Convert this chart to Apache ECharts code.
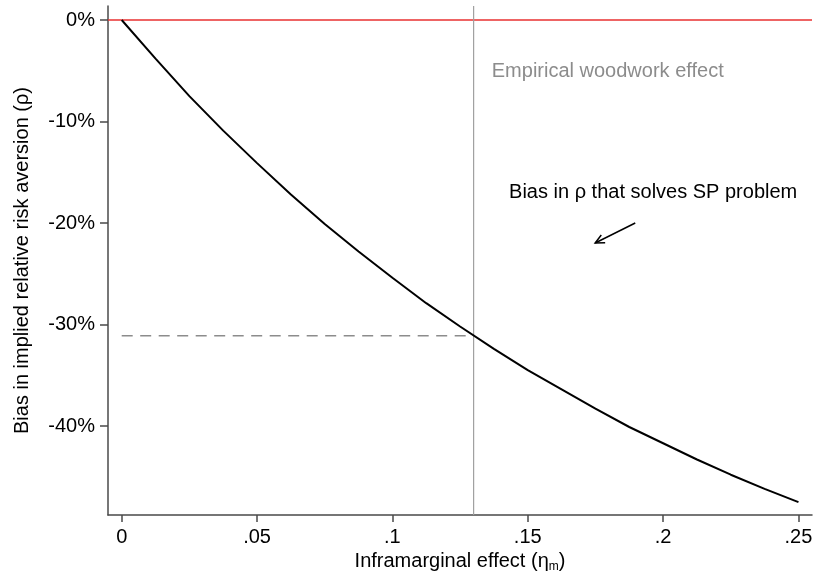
<!DOCTYPE html>
<html>
<head>
<meta charset="utf-8">
<script src="https://cdn.jsdelivr.net/npm/echarts@6/dist/echarts.min.js"></script>
<style>
  html, body { margin: 0; padding: 0; background: #fff; }
  #chart { width: 820px; height: 574px; }
</style>
</head>
<body>
<div id="chart"></div>
<script>
// Inframarginal effect (eta_m) on the horizontal axis
const etaM = [0, 0.0125, 0.025, 0.0375, 0.05, 0.0625, 0.075, 0.0875, 0.1, 0.1125,
              0.125, 0.1375, 0.15, 0.1625, 0.175, 0.1875, 0.2, 0.2125, 0.225, 0.2375, 0.25];
// Bias in implied relative risk aversion (share)
const rhoBias = [0, -0.038, -0.075, -0.109, -0.141, -0.172, -0.201, -0.228, -0.254, -0.279,
                 -0.302, -0.324, -0.345, -0.364, -0.383, -0.401, -0.417, -0.433, -0.448, -0.462, -0.475];
// Empirical woodwork effect and the bias it implies
const woodworkEffect = 0.13;
const biasAtWoodwork = -0.311;
// Axis extents and tick values
const xRange = [-0.00506, 0.255];
const yRange = [-0.4877, 0.0138];
const xTicks = [0, 0.05, 0.1, 0.15, 0.2, 0.25];
const yTicks = [0, -0.1, -0.2, -0.3, -0.4];
// Annotation anchors (data coordinates)
const woodworkLabelAt = [0.1367, -0.051];
const spLabelAt = [0.1431, -0.170];
const arrowFrom = [0.1897, -0.200];
const arrowTo = [0.1749, -0.2197];

const FONT = "'Liberation Sans', Arial, Helvetica, sans-serif";
const FS = 20;
const AXIS_COLOR = '#4a4a4a';

const chart = echarts.init(document.getElementById('chart'), null, { renderer: 'canvas' });

function fmtX(v) {
  if (Math.abs(v) < 1e-9) return '0';
  return String(+v.toFixed(3)).replace(/^0\./, '.');
}
function fmtY(v) {
  return Math.round(v * 100) + '%';
}

chart.setOption({
  animation: false,
  backgroundColor: '#ffffff',
  grid: { left: 108, right: 8, top: 6, bottom: 59, containLabel: false, outerBoundsMode: 'none' },
  xAxis: {
    type: 'value',
    min: xRange[0],
    max: xRange[1],
    name: '{t|Inframarginal effect (η}{s|m}{t|)}',
    nameLocation: 'middle',
    nameGap: 31,
    nameTextStyle: {
      rich: {
        t: { fontFamily: FONT, fontSize: FS, color: '#000' },
        s: { fontFamily: FONT, fontSize: 12, color: '#000', verticalAlign: 'bottom', padding: [9, 0, 0, 0] }
      }
    },
    axisLine: { show: true, onZero: false, lineStyle: { color: AXIS_COLOR, width: 1.5 } },
    axisTick: { show: true, length: 7, customValues: xTicks, lineStyle: { color: AXIS_COLOR, width: 1.5 } },
    axisLabel: {
      customValues: xTicks, formatter: fmtX, margin: 12,
      fontFamily: FONT, fontSize: FS, color: '#000'
    },
    splitLine: { show: false }
  },
  yAxis: {
    type: 'value',
    min: yRange[0],
    max: yRange[1],
    name: 'Bias in implied relative risk aversion (ρ)',
    nameLocation: 'middle',
    nameGap: 76,
    nameRotate: 90,
    nameTextStyle: { fontFamily: FONT, fontSize: FS, color: '#000' },
    axisLine: { show: true, onZero: false, lineStyle: { color: AXIS_COLOR, width: 1.5 } },
    axisTick: { show: true, length: 8, customValues: yTicks, lineStyle: { color: AXIS_COLOR, width: 1.5 } },
    axisLabel: {
      customValues: yTicks, formatter: fmtY, margin: 13,
      fontFamily: FONT, fontSize: FS, color: '#000'
    },
    splitLine: { show: false }
  },
  series: [
    {
      name: 'zero',
      type: 'line',
      data: [[xRange[0], 0], [xRange[1], 0]],
      symbol: 'none',
      lineStyle: { color: '#e83030', width: 1.5 },
      z: 4
    },
    {
      name: 'woodwork',
      type: 'line',
      data: [[woodworkEffect, yRange[0]], [woodworkEffect, yRange[1]]],
      symbol: 'none',
      lineStyle: { color: '#a0a0a0', width: 1.2 },
      z: 4
    },
    {
      name: 'bias',
      type: 'line',
      data: etaM.map((x, i) => [x, rhoBias[i]]),
      smooth: false,
      symbol: 'none',
      lineStyle: { color: '#000', width: 2 },
      z: 5
    },
    {
      name: 'reference',
      type: 'line',
      data: [[0, biasAtWoodwork], [woodworkEffect, biasAtWoodwork]],
      symbol: 'none',
      lineStyle: { color: '#8c8c8c', width: 1.5, type: [11, 7.5] },
      z: 3
    }
  ]
});

// Annotations placed from data coordinates
function px(p) { return chart.convertToPixel({ gridIndex: 0 }, p); }
const wl = px(woodworkLabelAt);
const sl = px(spLabelAt);
const a0 = px(arrowFrom);
const a1 = px(arrowTo);
const ang = Math.atan2(a1[1] - a0[1], a1[0] - a0[0]);
const headLen = 10, headSpread = 0.45;
const h1 = [a1[0] - headLen * Math.cos(ang - headSpread), a1[1] - headLen * Math.sin(ang - headSpread)];
const h2 = [a1[0] - headLen * Math.cos(ang + headSpread), a1[1] - headLen * Math.sin(ang + headSpread)];

chart.setOption({
  graphic: [
    {
      type: 'text', x: wl[0], y: wl[1],
      style: { text: 'Empirical woodwork effect', font: FS + 'px ' + FONT, fill: '#8c8c8c', textVerticalAlign: 'middle' }
    },
    {
      type: 'text', x: sl[0], y: sl[1],
      style: { text: 'Bias in ρ that solves SP problem', font: FS + 'px ' + FONT, fill: '#000', textVerticalAlign: 'middle' }
    },
    {
      type: 'line', shape: { x1: a0[0], y1: a0[1], x2: a1[0], y2: a1[1] },
      style: { stroke: '#000', lineWidth: 1.5 }
    },
    {
      type: 'polyline', shape: { points: [h1, a1, h2] },
      style: { stroke: '#000', lineWidth: 1.5, fill: null }
    }
  ]
});
</script>
</body>
</html>
